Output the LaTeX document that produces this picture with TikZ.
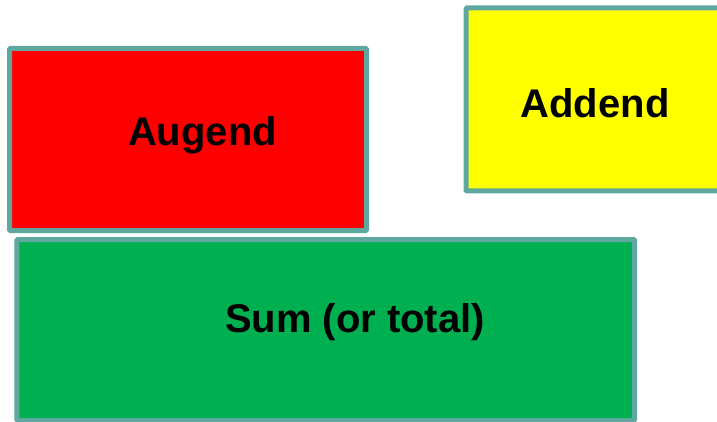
\documentclass[tikz,border=0pt]{standalone}
\usepackage{fontspec}
\setmainfont{Liberation Sans}
\definecolor{edgeteal}{RGB}{95,168,160}
\definecolor{boxred}{RGB}{255,0,0}
\definecolor{boxyellow}{RGB}{255,255,0}
\definecolor{boxgreen}{RGB}{0,176,80}
\tikzset{
  card/.style={draw=edgeteal, line width=5pt, rounded corners=1pt},
  lbl/.style={anchor=base, font=\fontsize{40}{45}\selectfont\bfseries, text=black, inner sep=0pt}
}
\begin{document}
\begin{tikzpicture}[x=1pt,y=-1pt]
\useasboundingbox (0,0) rectangle (717,422);
\clip (0,0) rectangle (717,422);
\fill[white] (0,0) rectangle (717,422);
\draw[card, fill=boxred] (9.5,48.5) rectangle (366.5,230.5);
\draw[card, fill=boxyellow] (466,8) rectangle (780,191);
\draw[card, fill=boxgreen] (16.8,239.5) rectangle (634.5,420.5);
\node[lbl] (augend) at (202.5,145.5) {Augend};
\node[lbl] (addend) at (595,118) {Addend};
\node[lbl] (sum) at (355,332.5) {Sum (or total)};
\end{tikzpicture}
\end{document}
